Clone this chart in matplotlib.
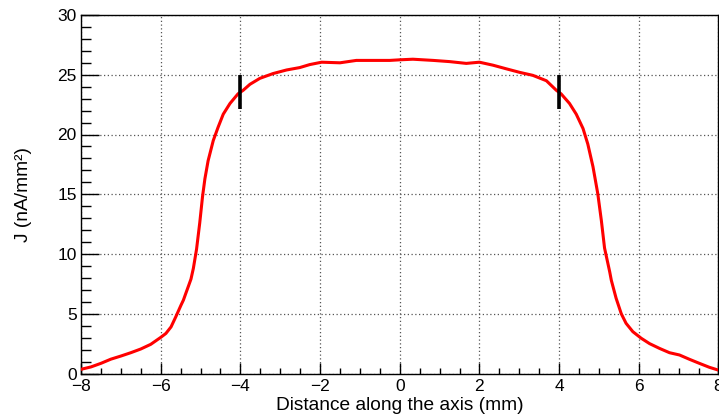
import matplotlib
matplotlib.use("Agg")
import matplotlib.pyplot as plt
from matplotlib.ticker import MultipleLocator

plt.rcParams['font.family'] = ['Liberation Sans', 'DejaVu Sans']

# Current density profile along the axis (mm, nA/mm^2)
pos_mm = [-8.0, -7.75, -7.5, -7.25, -7.0, -6.75, -6.5, -6.25, -6.0, -5.87,
          -5.74, -5.62, -5.49, -5.43, -5.37, -5.31, -5.24, -5.18, -5.10, -5.02,
          -4.95, -4.89, -4.81, -4.68, -4.56, -4.43, -4.26, -4.06, -3.93, -3.76,
          -3.51, -3.18, -2.84, -2.51, -2.26, -1.96, -1.5, -1.09, -0.67, -0.25,
          0.0, 0.33, 0.84, 1.25, 1.67, 2.0, 2.34, 2.67, 3.01, 3.34,
          3.68, 3.93, 4.05, 4.26, 4.43, 4.6, 4.72, 4.85, 4.97, 5.06,
          5.14, 5.27, 5.31, 5.39, 5.43, 5.56, 5.68, 5.85, 6.06, 6.27,
          6.52, 6.77, 7.02, 7.27, 7.52, 7.77, 7.98]
current = [0.35, 0.55, 0.85, 1.2, 1.46, 1.74, 2.05, 2.44, 3.02, 3.35,
           3.9, 4.75, 5.72, 6.14, 6.7, 7.25, 7.9, 8.8, 10.4, 12.6,
           14.8, 16.3, 17.8, 19.5, 20.6, 21.7, 22.6, 23.4, 23.7, 24.2,
           24.7, 25.1, 25.4, 25.6, 25.85, 26.05, 26.0, 26.2, 26.2, 26.2,
           26.25, 26.3, 26.2, 26.1, 25.95, 26.05, 25.8, 25.5, 25.2, 24.95,
           24.5, 23.7, 23.4, 22.6, 21.7, 20.5, 19.2, 17.3, 15.05, 12.8,
           10.5, 8.5, 7.8, 6.8, 6.3, 5.0, 4.2, 3.5, 2.95, 2.5,
           2.1, 1.74, 1.55, 1.19, 0.85, 0.52, 0.3]

# Edges of the flat region
edge_x = [-4.0, 4.0]
edge_low, edge_high = 22.1, 25.0

fig = plt.figure(figsize=(7.19, 4.16), dpi=100)
ax = fig.add_axes([81 / 719, 42.5 / 416, 637.5 / 719, 358.5 / 416])

ax.plot(pos_mm, current, color='#ff0000', lw=2.2, zorder=3)
ax.vlines(edge_x, edge_low, edge_high, color='black', lw=2.6, zorder=4)

ax.set_xlim(-8, 8)
ax.set_ylim(0, 30)
ax.xaxis.set_major_locator(MultipleLocator(2))
ax.xaxis.set_minor_locator(MultipleLocator(0.5))
ax.yaxis.set_major_locator(MultipleLocator(5))
ax.yaxis.set_minor_locator(MultipleLocator(1))

ax.tick_params(axis='x', which='major', direction='in', length=8, width=1, labelsize=12.5, pad=4)
ax.tick_params(axis='x', which='minor', direction='in', length=4.3, width=1)
ax.tick_params(axis='y', which='major', direction='in', length=13, width=1, labelsize=12.5, pad=3)
ax.tick_params(axis='y', which='minor', direction='in', length=7.2, width=1)

ax.grid(True, which='major', color='#555555', lw=0.9, linestyle=(0, (1, 2)))
for s in ax.spines.values():
    s.set_linewidth(1.0)

ax.set_xlabel('Distance along the axis (mm)', fontsize=13.8, labelpad=2)
ax.set_ylabel('J (nA/mm²)', fontsize=13.8, labelpad=18)

fig.savefig('out.png', dpi=100)
